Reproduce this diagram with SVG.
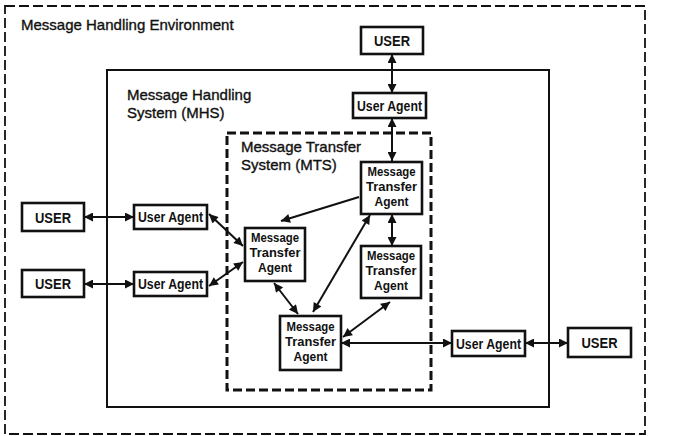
<svg xmlns="http://www.w3.org/2000/svg" width="674" height="436" viewBox="0 0 674 436">
<style>
.title{font-family:"Liberation Sans",Arial,sans-serif;font-size:15px;fill:#111;stroke:#111;stroke-width:0.35}
.box{fill:#fff;stroke:#111;stroke-width:2.6}
.lbl{font-family:"Liberation Sans",Arial,sans-serif;font-size:14px;font-weight:bold;fill:#111;text-anchor:middle}
.mta{font-size:13.5px}
.con{stroke:#111;stroke-width:2;fill:none}
.both{marker-start:url(#ah);marker-end:url(#ah)}
.end{marker-end:url(#ah)}
</style>
<defs>
<marker id="ah" viewBox="0 0 10 10" refX="10" refY="5" markerWidth="10" markerHeight="9" markerUnits="userSpaceOnUse" orient="auto-start-reverse">
<path d="M0,0 L10,5 L0,10 z" fill="#111"/>
</marker>
</defs>
<rect width="674" height="436" fill="#fff"/>

<g id="mhe">
<rect x="5" y="6" width="640" height="428" fill="none" stroke="#111" stroke-width="1.8" stroke-dasharray="10,4"/>
<text class="title" x="21" y="30">Message Handling Environment</text>
</g>
<g id="mhs">
<rect x="107" y="70" width="442" height="337" fill="none" stroke="#111" stroke-width="2"/>
<text class="title" x="127" y="100">Message Handling</text>
<text class="title" x="127" y="118">System (MHS)</text>
</g>
<g id="mts">
<rect x="227" y="133" width="204" height="257" fill="none" stroke="#111" stroke-width="3" stroke-dasharray="9,4"/>
<text class="title" x="241" y="152">Message Transfer</text>
<text class="title" x="241" y="170">System (MTS)</text>
</g>

<g id="connectors">
<line class="con both" x1="392" y1="54" x2="392" y2="93"/>
<line class="con both" x1="392" y1="118" x2="392" y2="161"/>
<line class="con both" x1="84" y1="217" x2="134" y2="217"/>
<line class="con both" x1="84" y1="284" x2="134" y2="284"/>
<line class="con both" x1="209" y1="214" x2="243" y2="246"/>
<line class="con both" x1="209" y1="286" x2="243" y2="262"/>
<line class="con end" x1="359" y1="197" x2="281" y2="221"/>
<line class="con both" x1="274" y1="283" x2="298" y2="314"/>
<line class="con both" x1="370" y1="215" x2="313" y2="312"/>
<line class="con both" x1="392" y1="214" x2="392" y2="246"/>
<line class="con both" x1="390" y1="302" x2="343" y2="337"/>
<line class="con both" x1="341" y1="343" x2="452" y2="343"/>
<line class="con both" x1="525" y1="343" x2="568" y2="343"/>
</g>

<g id="user-top">
<rect class="box" x="361" y="27" width="62" height="27"/>
<text class="lbl" x="392" y="45.5" textLength="36" lengthAdjust="spacingAndGlyphs">USER</text>
</g>
<g id="ua-top">
<rect class="box" x="353" y="93" width="73" height="25"/>
<text class="lbl" x="389.5" y="110.5" textLength="65" lengthAdjust="spacingAndGlyphs">User Agent</text>
</g>
<g id="user-left1">
<rect class="box" x="22" y="203" width="62" height="28"/>
<text class="lbl" x="53" y="222.5" textLength="36" lengthAdjust="spacingAndGlyphs">USER</text>
</g>
<g id="ua-left1">
<rect class="box" x="134" y="205" width="73" height="24"/>
<text class="lbl" x="170.5" y="222" textLength="65" lengthAdjust="spacingAndGlyphs">User Agent</text>
</g>
<g id="user-left2">
<rect class="box" x="22" y="270" width="62" height="27"/>
<text class="lbl" x="53" y="289" textLength="36" lengthAdjust="spacingAndGlyphs">USER</text>
</g>
<g id="ua-left2">
<rect class="box" x="134" y="272" width="73" height="24"/>
<text class="lbl" x="170.5" y="289" textLength="65" lengthAdjust="spacingAndGlyphs">User Agent</text>
</g>
<g id="mta-topright">
<rect class="box" x="361" y="162" width="61" height="52"/>
<text class="lbl mta" x="391.5" y="176" textLength="48" lengthAdjust="spacingAndGlyphs">Message</text>
<text class="lbl mta" x="391.5" y="191" textLength="51" lengthAdjust="spacingAndGlyphs">Transfer</text>
<text class="lbl mta" x="391.5" y="205.5" textLength="34" lengthAdjust="spacingAndGlyphs">Agent</text>
</g>
<g id="mta-left">
<rect class="box" x="245" y="228" width="60" height="53"/>
<text class="lbl mta" x="275" y="242" textLength="48" lengthAdjust="spacingAndGlyphs">Message</text>
<text class="lbl mta" x="275" y="257" textLength="51" lengthAdjust="spacingAndGlyphs">Transfer</text>
<text class="lbl mta" x="275" y="271.5" textLength="34" lengthAdjust="spacingAndGlyphs">Agent</text>
</g>
<g id="mta-rightmid">
<rect class="box" x="361" y="246" width="60" height="52"/>
<text class="lbl mta" x="391" y="260" textLength="48" lengthAdjust="spacingAndGlyphs">Message</text>
<text class="lbl mta" x="391" y="275" textLength="51" lengthAdjust="spacingAndGlyphs">Transfer</text>
<text class="lbl mta" x="391" y="289.5" textLength="34" lengthAdjust="spacingAndGlyphs">Agent</text>
</g>
<g id="mta-bottom">
<rect class="box" x="280" y="316" width="61" height="54"/>
<text class="lbl mta" x="310.5" y="331" textLength="48" lengthAdjust="spacingAndGlyphs">Message</text>
<text class="lbl mta" x="310.5" y="346" textLength="51" lengthAdjust="spacingAndGlyphs">Transfer</text>
<text class="lbl mta" x="310.5" y="360.5" textLength="34" lengthAdjust="spacingAndGlyphs">Agent</text>
</g>
<g id="ua-bottomright">
<rect class="box" x="452" y="331" width="73" height="25"/>
<text class="lbl" x="488.5" y="348.5" textLength="65" lengthAdjust="spacingAndGlyphs">User Agent</text>
</g>
<g id="user-bottomright">
<rect class="box" x="568" y="328" width="63" height="29"/>
<text class="lbl" x="599.5" y="348" textLength="36" lengthAdjust="spacingAndGlyphs">USER</text>
</g>
</svg>
